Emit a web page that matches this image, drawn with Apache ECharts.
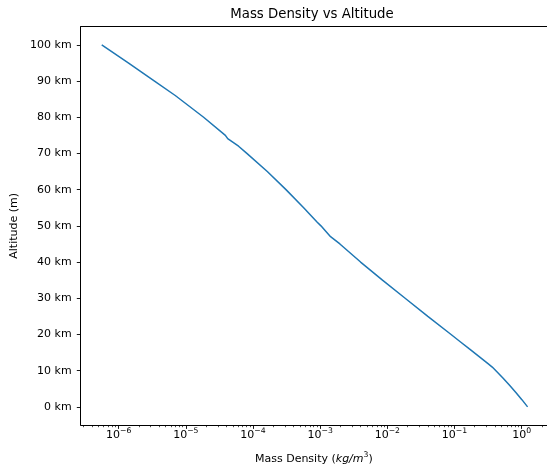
<!DOCTYPE html>
<html>
<head>
<meta charset="utf-8">
<script src="https://cdn.jsdelivr.net/npm/echarts@6/dist/echarts.min.js"></script>
<style>
  html, body { margin: 0; padding: 0; background: #fff; }
  #chart { width: 547px; height: 470px; }
</style>
</head>
<body>
<div id="chart"></div>
<script>
// Altitude samples (km) and the mass density at each one (kg/m^3)
const altitudeKm = [
  0, 2, 4, 6, 8, 10, 11, 12, 14, 16, 18, 20, 25, 30, 35, 40, 45, 47,
  50, 51, 55, 60, 65, 70, 72, 74.1, 75.0, 80, 86, 90, 95, 100
];
const densityKgM3 = [
  1.225, 1.007, 0.8194, 0.6601, 0.5258, 0.4135, 0.3648, 0.3119, 0.2279,
  0.1665, 0.1217, 0.08891, 0.04008, 0.01841, 0.008463, 0.003996, 0.001966,
  0.001428, 0.001027, 0.000905, 0.000568, 0.0003097, 0.0001632, 8.1e-5,
  6.1e-5, 4.2e-5, 3.88e-5, 1.84e-5, 6.96e-6, 3.42e-6, 1.39e-6, 5.6e-7
];

// Axis ticks
const altitudeTicks = [0, 10, 20, 30, 40, 50, 60, 70, 80, 90, 100];
const densityMajorTicks = [1e-6, 1e-5, 1e-4, 1e-3, 1e-2, 1e-1, 1e0];
const densityMinorTicks = [];
for (let e = -7; e <= 0; e++) {
  for (let k = 2; k <= 9; k++) densityMinorTicks.push(k * Math.pow(10, e));
}

const xMin = Math.pow(10, -6.565);
const xMax = Math.pow(10, 0.377);

const FONT = 'DejaVu Sans';
const INK = '#000';
const FS = 11;

function powerLabel(v) {
  const e = Math.round(Math.log10(v));
  const s = e < 0 ? '\u2212' + (-e) : String(e);
  return '{b|10}{s|' + s + '}';
}

const chart = echarts.init(document.getElementById('chart'), null, { renderer: 'canvas' });

chart.setOption({
  animation: false,
  backgroundColor: '#fff',
  textStyle: { fontFamily: FONT },
  title: {
    text: 'Mass Density vs Altitude',
    left: 312,
    top: 8.5,
    padding: 0,
    textAlign: 'center',
    textStyle: { fontFamily: FONT, fontSize: 13.3, fontWeight: 'normal', color: INK }
  },
  grid: {
    left: 80.7,
    top: 26.7,
    right: 0,
    bottom: 44,
    show: false,
    containLabel: false
  },
  xAxis: [
    {
      type: 'log',
      logBase: 10,
      min: xMin,
      max: xMax,
      position: 'bottom',
      name: '{n|Mass Density (}{i|kg/m}{s|3}{n|)}',
      nameLocation: 'middle',
      nameGap: 26,
      nameTextStyle: {
        fontFamily: FONT,
        color: INK,
        rich: {
          n: { fontFamily: FONT, fontSize: FS, color: INK, lineHeight: 14, verticalAlign: 'bottom' },
          i: { fontFamily: FONT, fontSize: FS, color: INK, fontStyle: 'italic', lineHeight: 14, verticalAlign: 'bottom' },
          s: { fontFamily: FONT, fontSize: 7.7, color: INK, lineHeight: 4, verticalAlign: 'top' }
        }
      },
      axisLine: { show: true, onZero: false, lineStyle: { color: INK, width: 1 } },
      axisTick: { show: true, inside: false, length: 3.9, lineStyle: { color: INK, width: 0.9 }, customValues: densityMajorTicks },
      axisLabel: {
        show: true,
        margin: 2,
        customValues: densityMajorTicks,
        formatter: powerLabel,
        rich: {
          b: { fontFamily: FONT, fontSize: FS, color: INK, lineHeight: 14, verticalAlign: 'bottom' },
          s: { fontFamily: FONT, fontSize: 7.7, color: INK, lineHeight: 4, verticalAlign: 'top' }
        }
      },
      splitLine: { show: false },
      minorTick: { show: false }
    },
    {
      // minor decade subdivisions (2..9 x 10^n)
      type: 'log',
      logBase: 10,
      min: xMin,
      max: xMax,
      position: 'bottom',
      axisLine: { show: false, onZero: false },
      axisTick: { show: true, inside: false, length: 2.2, lineStyle: { color: INK, width: 0.7 }, customValues: densityMinorTicks },
      axisLabel: { show: false },
      splitLine: { show: false }
    },
    {
      // top frame line of the plot area
      type: 'log',
      logBase: 10,
      min: xMin,
      max: xMax,
      position: 'top',
      axisLine: { show: true, onZero: false, lineStyle: { color: INK, width: 1 } },
      axisTick: { show: false },
      axisLabel: { show: false },
      splitLine: { show: false }
    }
  ],
  yAxis: {
    type: 'value',
    min: -5,
    max: 105,
    name: 'Altitude (m)',
    nameLocation: 'middle',
    nameGap: 59,
    nameRotate: 90,
    nameTextStyle: { fontFamily: FONT, fontSize: FS, color: INK },
    axisLine: { show: true, onZero: false, lineStyle: { color: INK, width: 1 } },
    axisTick: { show: true, inside: false, length: 3.9, lineStyle: { color: INK, width: 0.9 }, customValues: altitudeTicks },
    axisLabel: {
      show: true,
      margin: 9,
      fontFamily: FONT,
      fontSize: FS,
      color: INK,
      customValues: altitudeTicks,
      formatter: function (v) { return v + ' km'; }
    },
    splitLine: { show: false }
  },
  series: [
    {
      type: 'line',
      xAxisIndex: 0,
      yAxisIndex: 0,
      data: altitudeKm.map(function (h, i) { return [densityKgM3[i], h]; }),
      showSymbol: false,
      symbol: 'none',
      lineStyle: { color: '#1f77b4', width: 1.5 },
      clip: true
    }
  ]
});
</script>
</body>
</html>
